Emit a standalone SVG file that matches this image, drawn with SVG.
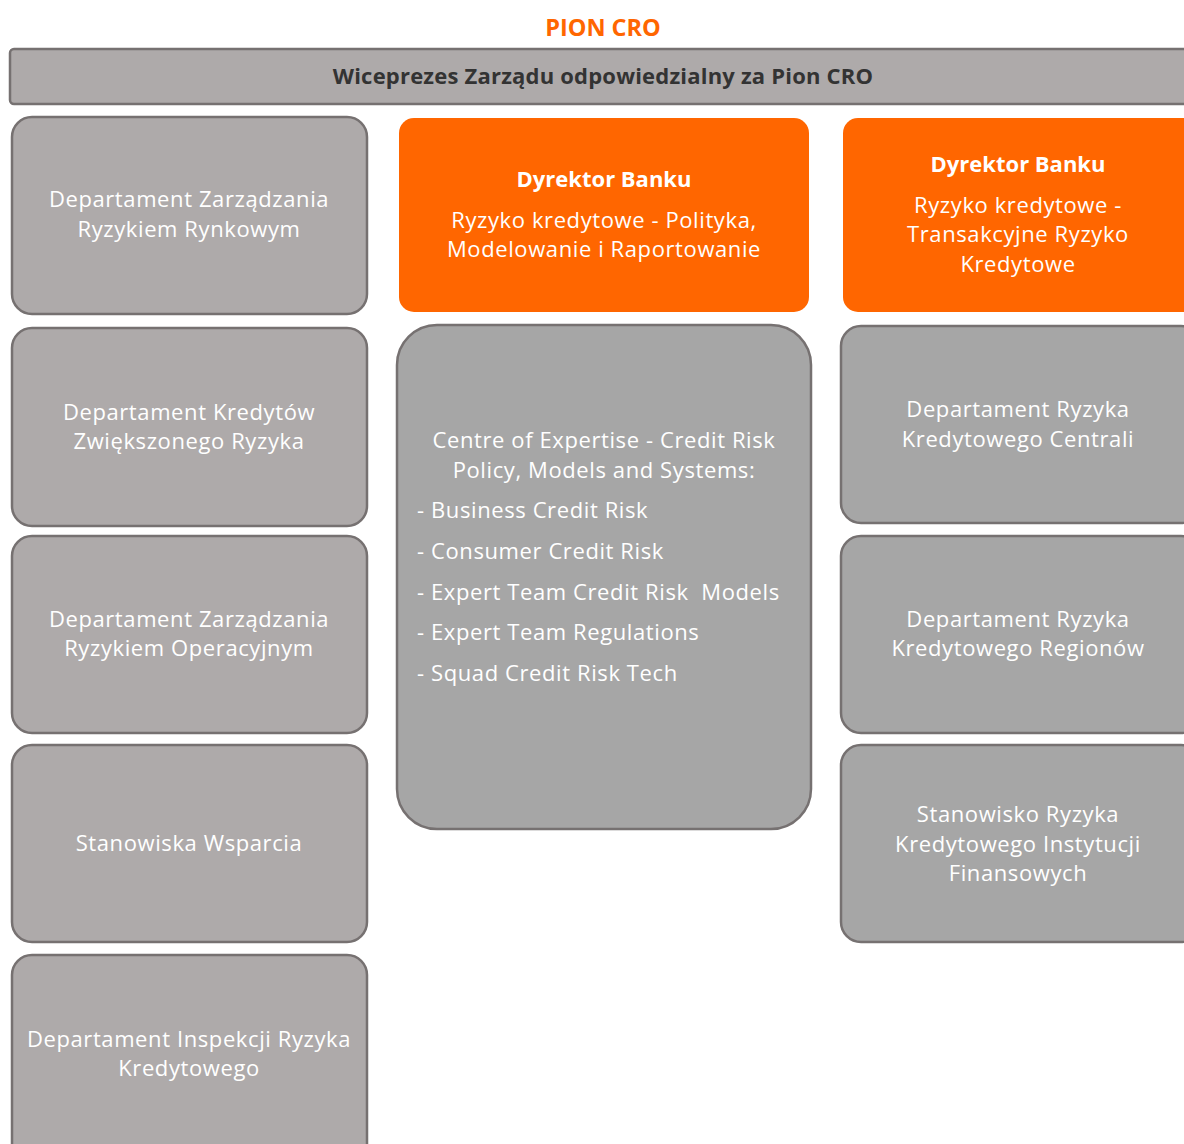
<svg xmlns="http://www.w3.org/2000/svg" width="1184" height="1144" viewBox="0 0 1184 1144">
  <style>
    .warm { fill: #AEAAAA; stroke: #767171; stroke-width: 2.5; }
    .cool { fill: #A6A6A6; stroke: #767171; stroke-width: 2.5; }
    .lead { fill: #FF6600; }
    text { font-family: "Open Sans", "Noto Sans", sans-serif; }
    .t { fill: #FFFFFF; font-size: 22px; letter-spacing: 0.6px; text-anchor: middle; }
    .tl { fill: #FFFFFF; font-size: 22px; letter-spacing: 0.6px; text-anchor: start; }
    .tb { fill: #FFFFFF; font-size: 22px; font-weight: bold; text-anchor: middle; }
  </style>

  <!-- division heading -->
  <text id="heading" x="603" y="36" font-size="23.5" font-weight="bold" fill="#FF6600" text-anchor="middle">PION CRO</text>

  <!-- vice-president bar -->
  <g id="vp">
    <rect class="warm" x="10" y="49" width="1190" height="55" rx="4"/>
    <text x="603" y="84" font-size="22" font-weight="bold" letter-spacing="0.2" fill="#333333" text-anchor="middle">Wiceprezes Zarządu odpowiedzialny za Pion CRO</text>
  </g>

  <!-- left column -->
  <g id="dep-rynkowe">
    <rect class="warm" x="12" y="117" width="355" height="197" rx="20"/>
    <text class="t" x="189" y="207">Departament Zarządzania</text>
    <text class="t" x="189" y="237">Ryzykiem Rynkowym</text>
  </g>
  <g id="dep-kredyty">
    <rect class="warm" x="12" y="328" width="355" height="198" rx="20"/>
    <text class="t" x="189" y="420">Departament Kredytów</text>
    <text class="t" x="189" y="449">Zwiększonego Ryzyka</text>
  </g>
  <g id="dep-operacyjne">
    <rect class="warm" x="12" y="536" width="355" height="197" rx="20"/>
    <text class="t" x="189" y="627">Departament Zarządzania</text>
    <text class="t" x="189" y="656">Ryzykiem Operacyjnym</text>
  </g>
  <g id="wsparcie">
    <rect class="warm" x="12" y="745" width="355" height="197" rx="20"/>
    <text class="t" x="189" y="851">Stanowiska Wsparcia</text>
  </g>
  <g id="dep-inspekcji">
    <rect class="warm" x="12" y="955" width="355" height="220" rx="20"/>
    <text class="t" x="189" y="1047">Departament Inspekcji Ryzyka</text>
    <text class="t" x="189" y="1076">Kredytowego</text>
  </g>

  <!-- middle column -->
  <g id="dyr-polityka">
    <rect class="lead" x="399" y="118" width="410" height="194" rx="15"/>
    <text class="tb" x="604" y="187">Dyrektor Banku</text>
    <text class="t" x="604" y="228">Ryzyko kredytowe - Polityka,</text>
    <text class="t" x="604" y="257">Modelowanie i Raportowanie</text>
  </g>
  <g id="coe">
    <rect class="cool" x="397" y="325" width="414" height="504" rx="40"/>
    <text class="t" x="604" y="448">Centre of Expertise - Credit Risk</text>
    <text class="t" x="604" y="478">Policy, Models and Systems:</text>
    <text class="tl" x="417" y="518">- Business Credit Risk</text>
    <text class="tl" x="417" y="559">- Consumer Credit Risk</text>
    <text class="tl" x="417" y="600" xml:space="preserve">- Expert Team Credit Risk  Models</text>
    <text class="tl" x="417" y="640">- Expert Team Regulations</text>
    <text class="tl" x="417" y="681">- Squad Credit Risk Tech</text>
  </g>

  <!-- right column -->
  <g id="dyr-transakcyjne">
    <rect class="lead" x="843" y="118" width="360" height="194" rx="15"/>
    <text class="tb" x="1018" y="172">Dyrektor Banku</text>
    <text class="t" x="1018" y="213">Ryzyko kredytowe -</text>
    <text class="t" x="1018" y="242">Transakcyjne Ryzyko</text>
    <text class="t" x="1018" y="272">Kredytowe</text>
  </g>
  <g id="dep-centrali">
    <rect class="cool" x="841" y="326" width="360" height="197" rx="20"/>
    <text class="t" x="1018" y="417">Departament Ryzyka</text>
    <text class="t" x="1018" y="447">Kredytowego Centrali</text>
  </g>
  <g id="dep-regionow">
    <rect class="cool" x="841" y="536" width="360" height="197" rx="20"/>
    <text class="t" x="1018" y="627">Departament Ryzyka</text>
    <text class="t" x="1018" y="656">Kredytowego Regionów</text>
  </g>
  <g id="instytucje">
    <rect class="cool" x="841" y="745" width="360" height="197" rx="20"/>
    <text class="t" x="1018" y="822">Stanowisko Ryzyka</text>
    <text class="t" x="1018" y="852">Kredytowego Instytucji</text>
    <text class="t" x="1018" y="881">Finansowych</text>
  </g>

  <!-- no connectors are drawn between the units -->
  <g id="connectors"/>
</svg>
